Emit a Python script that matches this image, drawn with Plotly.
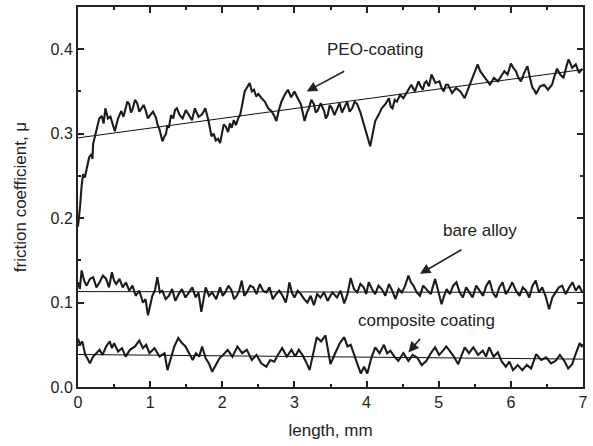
import plotly.graph_objects as go

# ---- data: (length mm, friction coefficient) ----
peo_pts = [
    (0.00, 0.190), (0.015, 0.200), (0.03, 0.215), (0.05, 0.238), (0.07, 0.252), (0.095, 0.248),
    (0.12, 0.260), (0.155, 0.272), (0.19, 0.276), (0.20, 0.270), (0.21, 0.288), (0.235, 0.296),
    (0.26, 0.307), (0.295, 0.318), (0.33, 0.321), (0.355, 0.312), (0.38, 0.330), (0.415, 0.318),
    (0.45, 0.320), (0.48, 0.312), (0.51, 0.303), (0.555, 0.318), (0.60, 0.327), (0.63, 0.320),
    (0.66, 0.330), (0.685, 0.338), (0.71, 0.335), (0.735, 0.325), (0.76, 0.330), (0.79, 0.340),
    (0.82, 0.336), (0.85, 0.326), (0.88, 0.330), (0.91, 0.334), (0.94, 0.327), (0.97, 0.318),
    (1.00, 0.322), (1.04, 0.326), (1.08, 0.319), (1.105, 0.310), (1.13, 0.305), (1.15, 0.296),
    (1.17, 0.291), (1.195, 0.296), (1.22, 0.300), (1.24, 0.310), (1.26, 0.307), (1.29, 0.322),
    (1.32, 0.318), (1.345, 0.328), (1.37, 0.330), (1.41, 0.322), (1.45, 0.318), (1.495, 0.328),
    (1.54, 0.321), (1.58, 0.316), (1.62, 0.330), (1.67, 0.320), (1.72, 0.323), (1.765, 0.330),
    (1.81, 0.315), (1.83, 0.305), (1.85, 0.297), (1.88, 0.300), (1.91, 0.292), (1.94, 0.294),
    (1.97, 0.289), (1.995, 0.300), (2.02, 0.311), (2.05, 0.308), (2.08, 0.302), (2.105, 0.312),
    (2.13, 0.307), (2.16, 0.316), (2.19, 0.310), (2.22, 0.318), (2.25, 0.323), (2.28, 0.336),
    (2.31, 0.350), (2.345, 0.355), (2.38, 0.360), (2.41, 0.350), (2.44, 0.352), (2.47, 0.344),
    (2.50, 0.347), (2.545, 0.342), (2.59, 0.338), (2.635, 0.330), (2.68, 0.327), (2.715, 0.322),
    (2.75, 0.315), (2.785, 0.328), (2.82, 0.338), (2.865, 0.346), (2.91, 0.352), (2.955, 0.343),
    (3.00, 0.350), (3.045, 0.342), (3.09, 0.335), (3.115, 0.325), (3.14, 0.315), (3.17, 0.324),
    (3.20, 0.330), (3.235, 0.340), (3.27, 0.335), (3.295, 0.325), (3.32, 0.327), (3.365, 0.336),
    (3.41, 0.327), (3.435, 0.318), (3.46, 0.322), (3.49, 0.334), (3.52, 0.330), (3.555, 0.322),
    (3.59, 0.330), (3.625, 0.336), (3.66, 0.325), (3.695, 0.332), (3.73, 0.338), (3.765, 0.326),
    (3.80, 0.330), (3.835, 0.338), (3.87, 0.335), (3.915, 0.325), (3.96, 0.311), (4.005, 0.298),
    (4.05, 0.285), (4.085, 0.300), (4.12, 0.315), (4.165, 0.322), (4.21, 0.330), (4.26, 0.335),
    (4.31, 0.342), (4.335, 0.332), (4.36, 0.330), (4.39, 0.340), (4.42, 0.338), (4.465, 0.346),
    (4.51, 0.342), (4.565, 0.350), (4.62, 0.358), (4.67, 0.350), (4.72, 0.362), (4.75, 0.356),
    (4.78, 0.352), (4.805, 0.360), (4.83, 0.362), (4.865, 0.356), (4.90, 0.370), (4.955, 0.360),
    (5.01, 0.362), (5.04, 0.354), (5.07, 0.350), (5.10, 0.358), (5.13, 0.358), (5.185, 0.348),
    (5.24, 0.354), (5.30, 0.350), (5.36, 0.342), (5.395, 0.350), (5.43, 0.358), (5.485, 0.370),
    (5.54, 0.382), (5.575, 0.374), (5.61, 0.370), (5.66, 0.364), (5.71, 0.358), (5.765, 0.366),
    (5.82, 0.362), (5.865, 0.368), (5.91, 0.374), (5.955, 0.370), (6.00, 0.383), (6.035, 0.378),
    (6.07, 0.374), (6.105, 0.366), (6.14, 0.362), (6.185, 0.372), (6.23, 0.380), (6.265, 0.366),
    (6.30, 0.354), (6.325, 0.352), (6.35, 0.347), (6.405, 0.356), (6.46, 0.358), (6.515, 0.352),
    (6.57, 0.358), (6.605, 0.368), (6.64, 0.377), (6.685, 0.370), (6.73, 0.366), (6.765, 0.378),
    (6.80, 0.388), (6.85, 0.378), (6.90, 0.382), (6.945, 0.372), (6.99, 0.377),
]

bare_pts = [
    (0.00, 0.124), (0.025, 0.116), (0.05, 0.138), (0.085, 0.126), (0.12, 0.120), (0.165, 0.128),
    (0.21, 0.130), (0.255, 0.118), (0.30, 0.124), (0.345, 0.132), (0.39, 0.128), (0.43, 0.118),
    (0.47, 0.136), (0.50, 0.126), (0.53, 0.122), (0.575, 0.128), (0.62, 0.118), (0.665, 0.124),
    (0.71, 0.114), (0.755, 0.120), (0.80, 0.108), (0.85, 0.114), (0.90, 0.100), (0.935, 0.104),
    (0.97, 0.085), (1.00, 0.096), (1.03, 0.108), (1.065, 0.114), (1.10, 0.130), (1.135, 0.112),
    (1.17, 0.114), (1.215, 0.104), (1.26, 0.108), (1.305, 0.116), (1.35, 0.102), (1.395, 0.110),
    (1.44, 0.116), (1.49, 0.106), (1.54, 0.112), (1.585, 0.118), (1.63, 0.106), (1.67, 0.112),
    (1.71, 0.089), (1.74, 0.106), (1.77, 0.118), (1.815, 0.108), (1.86, 0.112), (1.915, 0.104),
    (1.97, 0.118), (2.005, 0.108), (2.04, 0.112), (2.085, 0.120), (2.13, 0.114), (2.165, 0.104),
    (2.20, 0.108), (2.235, 0.114), (2.27, 0.126), (2.305, 0.108), (2.34, 0.112), (2.385, 0.120),
    (2.43, 0.118), (2.475, 0.110), (2.52, 0.122), (2.565, 0.114), (2.61, 0.112), (2.655, 0.118),
    (2.70, 0.104), (2.745, 0.110), (2.79, 0.114), (2.835, 0.108), (2.88, 0.100), (2.905, 0.110),
    (2.93, 0.124), (2.965, 0.112), (3.00, 0.106), (3.045, 0.114), (3.09, 0.110), (3.135, 0.104),
    (3.18, 0.100), (3.225, 0.108), (3.27, 0.097), (3.315, 0.110), (3.36, 0.106), (3.41, 0.112),
    (3.46, 0.102), (3.525, 0.112), (3.59, 0.106), (3.64, 0.114), (3.69, 0.099), (3.735, 0.110),
    (3.78, 0.129), (3.825, 0.116), (3.87, 0.112), (3.915, 0.122), (3.96, 0.118), (3.995, 0.110),
    (4.03, 0.124), (4.075, 0.116), (4.12, 0.110), (4.165, 0.120), (4.21, 0.116), (4.26, 0.108),
    (4.31, 0.122), (4.355, 0.114), (4.40, 0.104), (4.445, 0.116), (4.49, 0.112), (4.535, 0.120),
    (4.58, 0.132), (4.615, 0.124), (4.65, 0.120), (4.695, 0.112), (4.74, 0.108), (4.785, 0.120),
    (4.83, 0.116), (4.89, 0.110), (4.95, 0.128), (4.995, 0.114), (5.04, 0.098), (5.075, 0.108),
    (5.11, 0.116), (5.155, 0.110), (5.20, 0.120), (5.245, 0.124), (5.29, 0.112), (5.335, 0.106),
    (5.38, 0.118), (5.425, 0.112), (5.47, 0.106), (5.52, 0.120), (5.57, 0.114), (5.615, 0.108),
    (5.66, 0.120), (5.705, 0.126), (5.75, 0.112), (5.795, 0.106), (5.84, 0.118), (5.885, 0.124),
    (5.93, 0.110), (5.975, 0.116), (6.02, 0.124), (6.07, 0.114), (6.12, 0.108), (6.165, 0.118),
    (6.21, 0.114), (6.255, 0.106), (6.30, 0.120), (6.345, 0.126), (6.39, 0.112), (6.435, 0.118),
    (6.48, 0.108), (6.505, 0.100), (6.53, 0.092), (6.575, 0.106), (6.62, 0.112), (6.665, 0.118),
    (6.71, 0.120), (6.76, 0.110), (6.81, 0.118), (6.855, 0.124), (6.90, 0.114), (6.945, 0.120),
    (6.99, 0.112),
]

comp_pts = [
    (0.00, 0.057), (0.03, 0.050), (0.06, 0.054), (0.10, 0.038), (0.13, 0.034), (0.165, 0.028),
    (0.21, 0.036), (0.255, 0.040), (0.30, 0.044), (0.34, 0.038), (0.39, 0.048), (0.44, 0.054),
    (0.47, 0.046), (0.50, 0.052), (0.555, 0.042), (0.61, 0.046), (0.66, 0.036), (0.72, 0.044),
    (0.79, 0.048), (0.85, 0.055), (0.90, 0.046), (0.945, 0.050), (0.99, 0.040), (1.06, 0.046),
    (1.13, 0.036), (1.20, 0.040), (1.24, 0.020), (1.28, 0.032), (1.335, 0.048), (1.39, 0.058),
    (1.44, 0.052), (1.49, 0.048), (1.54, 0.040), (1.59, 0.032), (1.635, 0.040), (1.68, 0.036),
    (1.72, 0.048), (1.77, 0.034), (1.815, 0.028), (1.86, 0.018), (1.91, 0.026), (1.96, 0.034),
    (2.01, 0.038), (2.075, 0.044), (2.14, 0.036), (2.21, 0.048), (2.275, 0.040), (2.34, 0.044),
    (2.41, 0.032), (2.475, 0.038), (2.54, 0.028), (2.61, 0.024), (2.665, 0.032), (2.72, 0.030),
    (2.77, 0.038), (2.83, 0.046), (2.895, 0.036), (2.96, 0.044), (3.01, 0.036), (3.06, 0.044),
    (3.11, 0.038), (3.16, 0.030), (3.21, 0.020), (3.26, 0.040), (3.31, 0.059), (3.37, 0.054),
    (3.43, 0.061), (3.465, 0.044), (3.50, 0.027), (3.565, 0.040), (3.63, 0.052), (3.69, 0.059),
    (3.735, 0.048), (3.78, 0.050), (3.82, 0.039), (3.87, 0.028), (3.92, 0.016), (3.965, 0.024),
    (4.01, 0.016), (4.065, 0.034), (4.12, 0.047), (4.18, 0.040), (4.24, 0.050), (4.285, 0.040),
    (4.33, 0.043), (4.385, 0.036), (4.44, 0.031), (4.51, 0.040), (4.58, 0.031), (4.64, 0.038),
    (4.70, 0.035), (4.765, 0.026), (4.83, 0.031), (4.89, 0.040), (4.95, 0.047), (5.005, 0.038),
    (5.06, 0.043), (5.105, 0.048), (5.15, 0.043), (5.21, 0.036), (5.27, 0.027), (5.315, 0.038),
    (5.36, 0.047), (5.42, 0.040), (5.48, 0.047), (5.545, 0.038), (5.61, 0.043), (5.655, 0.036),
    (5.70, 0.047), (5.76, 0.036), (5.82, 0.041), (5.875, 0.030), (5.93, 0.024), (5.98, 0.030),
    (6.03, 0.020), (6.095, 0.026), (6.16, 0.020), (6.22, 0.026), (6.28, 0.022), (6.315, 0.030),
    (6.35, 0.039), (6.42, 0.032), (6.49, 0.035), (6.555, 0.028), (6.62, 0.031), (6.68, 0.038),
    (6.74, 0.031), (6.795, 0.022), (6.85, 0.027), (6.885, 0.036), (6.92, 0.043), (6.955, 0.052),
    (6.99, 0.047),
]

peo_x = [p[0] for p in peo_pts]
peo_y = [p[1] for p in peo_pts]
bare_x = [p[0] for p in bare_pts]
bare_y = [p[1] for p in bare_pts]
comp_x = [p[0] for p in comp_pts]
comp_y = [p[1] for p in comp_pts]

# straight fit lines through each trace
fit_x = [0.0, 7.0]
peo_fit = [0.295, 0.376]
bare_fit = [0.113, 0.112]
comp_fit = [0.0385, 0.033]

x_ticks = [0, 1, 2, 3, 4, 5, 6, 7]
y_ticks = [0.0, 0.1, 0.2, 0.3, 0.4]
y_tick_labels = ["0.0", "0.1", "0.2", "0.3", "0.4"]

# ---- figure ----
FONT = "Liberation Sans, Arial, sans-serif"
INK = "#222222"
trace_col = "#1c1c1c"
fig = go.Figure()
for xs, ys in [(peo_x, peo_y), (bare_x, bare_y), (comp_x, comp_y)]:
    fig.add_trace(go.Scatter(x=xs, y=ys, mode="lines",
                             line=dict(color=trace_col, width=2.1), showlegend=False,
                             hoverinfo="skip"))
for fy in [peo_fit, bare_fit, comp_fit]:
    fig.add_trace(go.Scatter(x=fit_x, y=fy, mode="lines",
                             line=dict(color="#111111", width=1), showlegend=False,
                             hoverinfo="skip"))

axis_common = dict(showline=True, linecolor=INK, linewidth=2, mirror="allticks",
                   ticks="inside", tickcolor=INK, tickwidth=2, ticklen=6,
                   showgrid=False, zeroline=False,
                   tickfont=dict(family=FONT, size=16, color=INK))
fig.update_xaxes(range=[0, 7], tickvals=x_ticks,
                 minor=dict(dtick=0.5, ticks="inside", ticklen=3, tickwidth=2, tickcolor=INK),
                 title=dict(text="length, mm", font=dict(family=FONT, size=17, color=INK), standoff=14),
                 **axis_common)
fig.update_yaxes(range=[0, 0.45], tickvals=y_ticks, ticktext=y_tick_labels,
                 minor=dict(dtick=0.05, tick0=0, ticks="inside", ticklen=3, tickwidth=2, tickcolor=INK),
                 title=dict(text="friction coefficient, μ", font=dict(family=FONT, size=17, color=INK), standoff=20),
                 **axis_common)

ann_font = dict(family=FONT, size=17, color=INK)
arrow_style = dict(text="", showarrow=True, arrowhead=2, arrowsize=1.3, arrowwidth=1.6,
                   arrowcolor=INK, axref="pixel", ayref="pixel")
fig.add_annotation(x=3.17, y=0.350, ax=39, ay=-21, **arrow_style)
fig.add_annotation(x=4.11, y=0.400, text="PEO-coating", showarrow=False, font=ann_font)
fig.add_annotation(x=4.74, y=0.134, ax=43, ay=-25, **arrow_style)
fig.add_annotation(x=5.57, y=0.185, text="bare alloy", showarrow=False, font=ann_font)
fig.add_annotation(x=4.58, y=0.041, ax=13, ay=-15, **arrow_style)
fig.add_annotation(x=4.83, y=0.0787, text="composite coating", showarrow=False, font=ann_font)

fig.update_layout(width=593, height=446, margin=dict(l=78, r=5, t=5, b=59),
                  plot_bgcolor="white", paper_bgcolor="white")
fig.write_html("out.html", config={"displayModeBar": False},
               post_script="document.body.style.margin='0';")
